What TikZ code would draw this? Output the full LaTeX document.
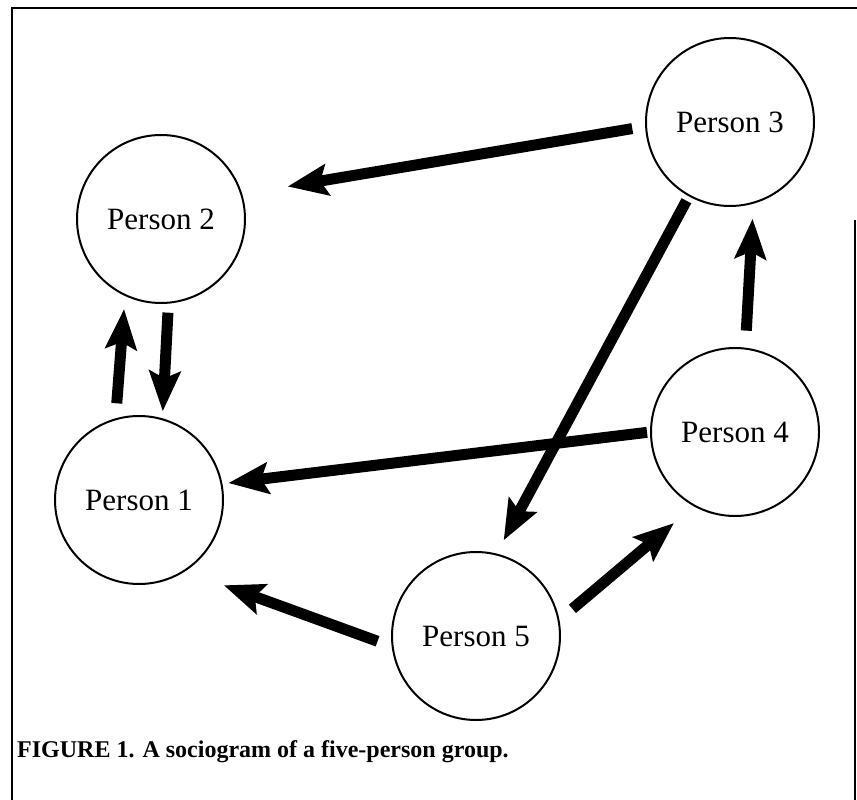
\documentclass[tikz,border=0pt]{standalone}
\usepackage{fontspec}
\setmainfont{Liberation Serif}
\usetikzlibrary{arrows.meta}

\begin{document}
\begin{tikzpicture}[x=1pt, y=-1pt,
  person/.style={draw=black, circle, line width=2pt, minimum size=168pt, inner sep=0pt, text=black, font=\fontsize{31}{37}\selectfont},
  tie/.style={line width=11pt, -{Stealth[length=40pt, width=31pt, inset=7pt]}}]
  \useasboundingbox (0,0) rectangle (857,800);

  % frame
  \draw[line width=2.5pt] (12,800) -- (12,8) -- (857,8);
  \draw[line width=2.5pt] (855,220) -- (855,800);

  \node[person] (p1) at (139,500) {Person 1};
  \node[person] (p2) at (161,219) {Person 2};
  \node[person] (p3) at (730,122) {Person 3};
  \node[person] (p4) at (735,432) {Person 4};
  \node[person] (p5) at (476,636) {Person 5};

  \draw[tie, shorten <=15pt, shorten >=13pt] (p1.106) -- (p2.245);
  \draw[tie, shorten <=9pt, shorten >=7pt] (p2.275.5) -- (p1.74.7);
  \draw[tie, shorten <=13pt, shorten >=46pt] (p3.183) -- (p2.17);
  \draw[tie, shorten <=3pt, shorten >=6pt] (p4.180) -- (p1.11);
  \draw[tie, shorten <=5pt, shorten >=15pt] (p3.241) -- (p5.76);
  \draw[tie, shorten <=15pt, shorten >=41pt] (p5.187.5) -- (p1.-57);
  \draw[tie, shorten <=17pt, shorten >=26pt] (p5.11) -- (p4.241);
  \draw[tie, shorten <=17pt, shorten >=15pt] (p4.83) -- (p3.-74);

  \node[anchor=west, inner sep=0pt, font=\bfseries\fontsize{24}{29}\selectfont] (caption) at (17,752) {FIGURE 1. A sociogram of a five-person group.};
\end{tikzpicture}
\end{document}
